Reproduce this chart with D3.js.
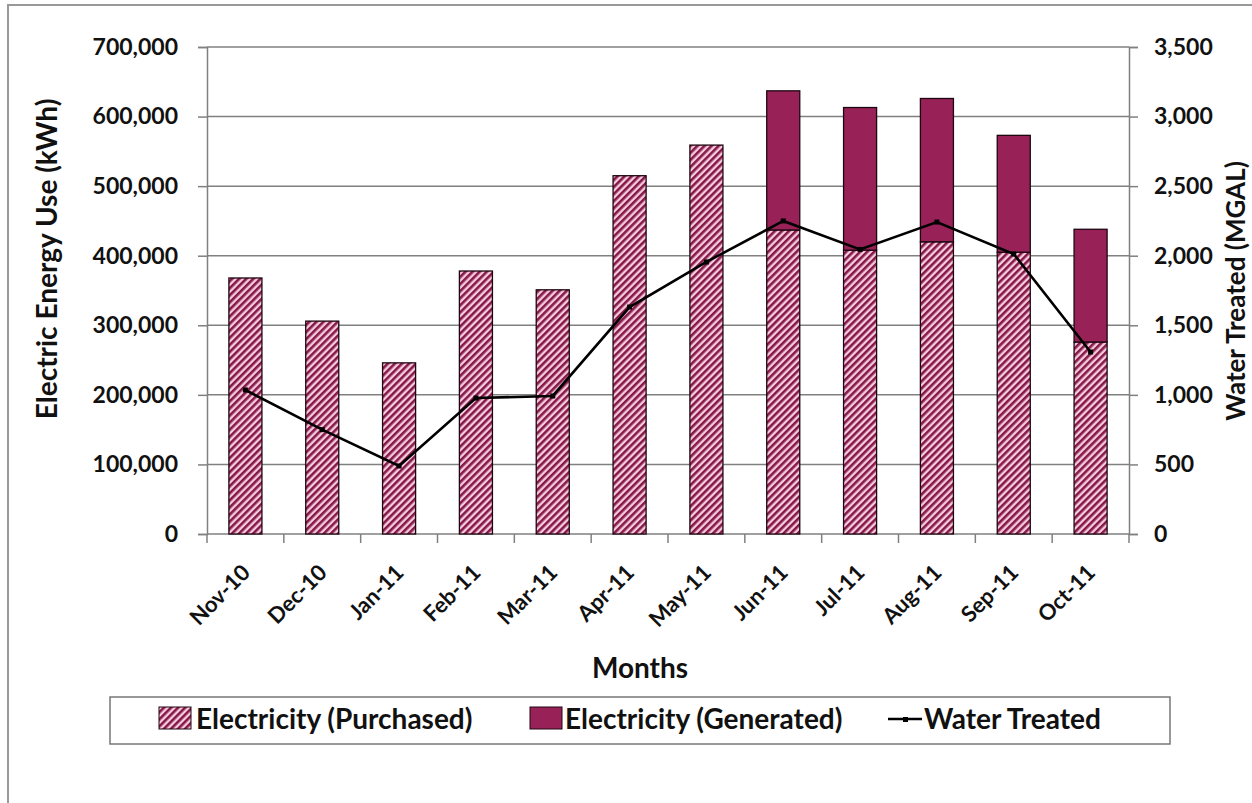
<!DOCTYPE html>
<html><head><meta charset="utf-8">
<script src="https://cdn.jsdelivr.net/npm/d3@7"></script>
<style>body{margin:0;background:#fff}svg{display:block}text{font-family:Lato,"Open Sans",sans-serif;font-weight:bold;fill:#111}</style>
</head><body><svg id="c" width="1252" height="803"></svg>
<script>
const months = ["Nov-10","Dec-10","Jan-11","Feb-11","Mar-11","Apr-11","May-11","Jun-11","Jul-11","Aug-11","Sep-11","Oct-11"];
const purchased = [368000,306000,246000,378000,351000,515000,559000,437000,408000,420000,405000,276000];
const generated = [0,0,0,0,0,0,0,200000,205000,206000,168000,162000];
const waterTreated = [1035,750,489,977,992,1631,1955,2250,2045,2242,2012,1308];
const leftTicks = [0,100000,200000,300000,400000,500000,600000,700000];
const rightTicks = [0,500,1000,1500,2000,2500,3000,3500];

const svg = d3.select("#c");
const L=207, R=1129, T=47, B=534;
const x = d3.scaleBand().domain(months).range([L,R]).paddingInner(0.57).paddingOuter(0.285);
const xb = d3.scaleBand().domain(months).range([L,R]);
const yL = d3.scaleLinear().domain([0,700000]).range([B,T]);
const yR = d3.scaleLinear().domain([0,3500]).range([B,T]);

const defs = svg.append("defs");
const pat = defs.append("pattern").attr("id","hatch").attr("patternUnits","userSpaceOnUse")
  .attr("width",5).attr("height",5).attr("patternTransform","rotate(45)");
pat.append("rect").attr("width",5).attr("height",5).attr("fill","#f5ccdb");
pat.append("rect").attr("width",2.6).attr("height",5).attr("fill","#86174a");

// frame
svg.append("rect").attr("x",8).attr("y",5).attr("width",1260).attr("height",820)
  .attr("fill","none").attr("stroke","#999").attr("stroke-width",2);

// gridlines
svg.append("g").selectAll("line").data(leftTicks.slice(1)).join("line")
  .attr("x1",L).attr("x2",R).attr("y1",d=>yL(d)).attr("y2",d=>yL(d))
  .attr("stroke","#808080").attr("stroke-width",1.5);

// left axis
const gl = svg.append("g").attr("transform",`translate(${L},0)`)
  .call(d3.axisLeft(yL).tickValues(leftTicks).tickFormat(d3.format(",")).tickSize(9).tickPadding(20));
gl.select(".domain").attr("stroke","#808080").attr("stroke-width",1.5);
gl.selectAll(".tick line").attr("stroke","#808080").attr("stroke-width",1.5);
gl.selectAll("text").style("font-size","23px").style("font-family","Lato").style("font-weight","bold").attr("fill","#111");

// right axis
const gr = svg.append("g").attr("transform",`translate(${R},0)`)
  .call(d3.axisRight(yR).tickValues(rightTicks).tickFormat(d3.format(",")).tickSize(9).tickPadding(16));
gr.select(".domain").attr("stroke","#808080").attr("stroke-width",1.5);
gr.selectAll(".tick line").attr("stroke","#808080").attr("stroke-width",1.5);
gr.selectAll("text").style("font-size","23px").style("font-family","Lato").style("font-weight","bold").attr("fill","#111");

// bottom axis
svg.append("line").attr("x1",L).attr("x2",R).attr("y1",B).attr("y2",B).attr("stroke","#808080").attr("stroke-width",1.5);
const bounds = months.map(m=>xb(m)).concat([R]);
svg.append("g").selectAll("line").data(bounds).join("line")
  .attr("x1",d=>d).attr("x2",d=>d).attr("y1",B).attr("y2",B+9).attr("stroke","#808080").attr("stroke-width",1.5);
svg.append("g").selectAll("text").data(months).join("text")
  .attr("transform",d=>`translate(${x(d)+x.bandwidth()/2+6},${B+40}) rotate(-45)`)
  .attr("text-anchor","end").style("font-size","22px").text(d=>d);

// bars
const bars = svg.append("g");
bars.selectAll("rect.p").data(months).join("rect").attr("class","p")
  .attr("x",d=>x(d)).attr("width",x.bandwidth())
  .attr("y",(d,i)=>yL(purchased[i])).attr("height",(d,i)=>yL(0)-yL(purchased[i]))
  .attr("fill","url(#hatch)").attr("stroke","#1e0610").attr("stroke-width",1.3);
bars.selectAll("rect.g").data(months.filter((d,i)=>generated[i]>0)).join("rect").attr("class","g")
  .attr("x",d=>x(d)).attr("width",x.bandwidth())
  .attr("y",d=>{const i=months.indexOf(d);return yL(purchased[i]+generated[i]);})
  .attr("height",d=>{const i=months.indexOf(d);return yL(purchased[i])-yL(purchased[i]+generated[i]);})
  .attr("fill","#982257").attr("stroke","#1e0610").attr("stroke-width",1.3);

// line
const line = d3.line().x((d,i)=>x(months[i])+x.bandwidth()/2).y(d=>yR(d));
svg.append("path").datum(waterTreated).attr("d",line).attr("fill","none").attr("stroke","#000").attr("stroke-width",2.6);
svg.append("g").selectAll("rect").data(waterTreated).join("rect")
  .attr("x",(d,i)=>x(months[i])+x.bandwidth()/2-2.5).attr("y",d=>yR(d)-2.5).attr("width",5).attr("height",5).attr("fill","#000");

// axis titles
svg.append("text").attr("transform",`translate(57,259) rotate(-90)`).attr("text-anchor","middle")
  .style("font-size","28px").text("Electric Energy Use (kWh)");
svg.append("text").attr("transform",`translate(1245,291) rotate(-90)`).attr("text-anchor","middle")
  .style("font-size","26px").text("Water Treated (MGAL)");
svg.append("text").attr("x",640).attr("y",678).attr("text-anchor","middle").style("font-size","28px").text("Months");

// legend
svg.append("rect").attr("x",110).attr("y",697).attr("width",1060).attr("height",47).attr("fill","#fff").attr("stroke","#777").attr("stroke-width",1.5);
const leg = svg.append("g");
leg.append("rect").attr("x",159).attr("y",707).attr("width",32).attr("height",22).attr("fill","url(#hatch)").attr("stroke","#1e0610");
leg.append("text").attr("x",196).attr("y",729).style("font-size","28px").text("Electricity (Purchased)");
leg.append("rect").attr("x",530).attr("y",707).attr("width",32).attr("height",22).attr("fill","#982257").attr("stroke","#1e0610");
leg.append("text").attr("x",565).attr("y",729).style("font-size","28px").text("Electricity (Generated)");
leg.append("line").attr("x1",888).attr("x2",922).attr("y1",719).attr("y2",719).attr("stroke","#000").attr("stroke-width",2.6);
leg.append("rect").attr("x",903).attr("y",717).attr("width",5).attr("height",5).attr("fill","#000");
leg.append("text").attr("x",924).attr("y",729).style("font-size","28px").text("Water Treated");
</script></body></html>
